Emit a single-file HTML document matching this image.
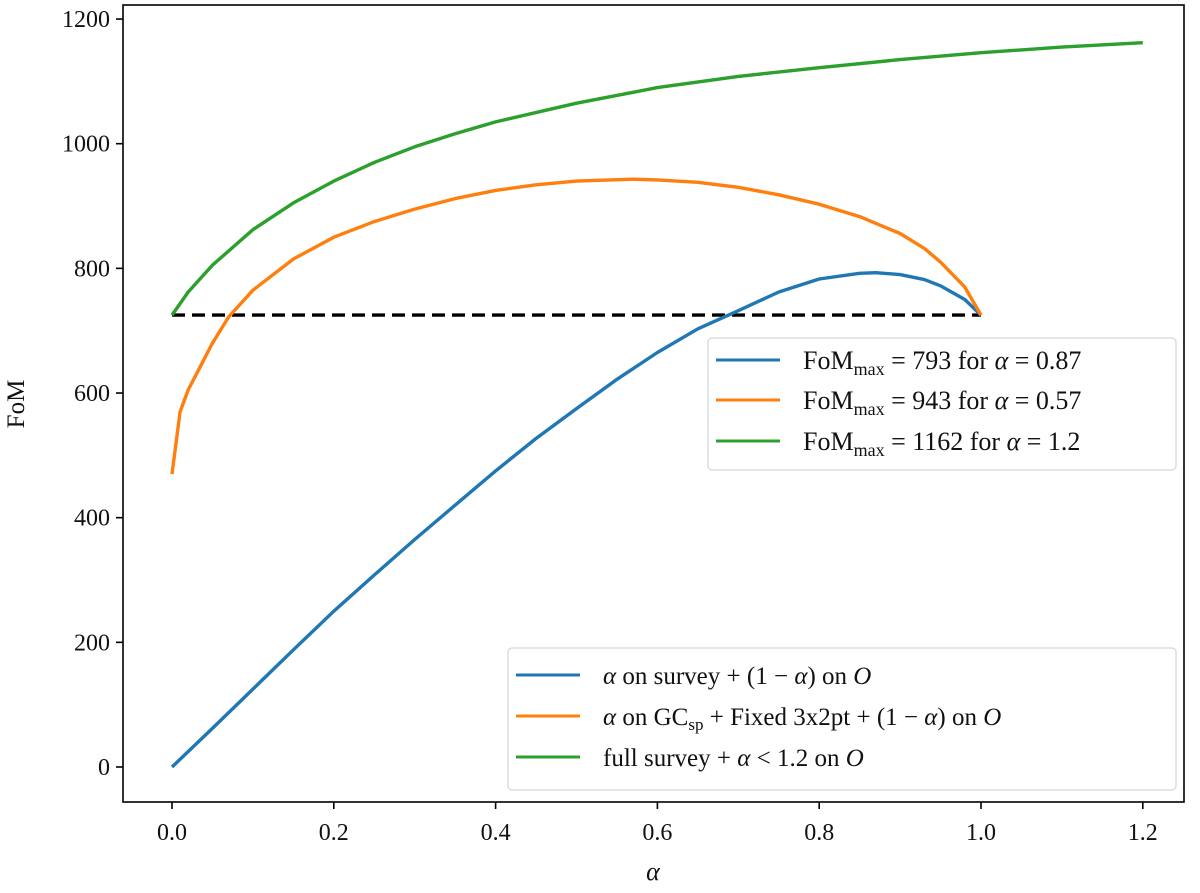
<!DOCTYPE html>
<html><head><meta charset="utf-8"><style>
body{margin:0;background:#fff}
svg text{font-family:"Liberation Serif","DejaVu Serif",serif;fill:#111}
</style></head><body>
<svg id="chart" width="1200" height="888">
<g id="axes"></g><g id="series"></g>
<g>
<rect x="708" y="338" width="468" height="132" rx="4" fill="#fff" stroke="#ccc"/>
<line x1="716" y1="360" x2="780" y2="360" stroke="#1f77b4" stroke-width="3"/>
<line x1="716" y1="400" x2="780" y2="400" stroke="#ff7f0e" stroke-width="3"/>
<line x1="716" y1="441" x2="780" y2="441" stroke="#2ca02c" stroke-width="3"/>
<text x="803" y="369" font-size="26">FoM<tspan font-size="18" dy="6">max</tspan><tspan dy="-6"> = 793 for </tspan><tspan font-style="italic">α</tspan> = 0.87</text>
<text x="803" y="409" font-size="26">FoM<tspan font-size="18" dy="6">max</tspan><tspan dy="-6"> = 943 for </tspan><tspan font-style="italic">α</tspan> = 0.57</text>
<text x="803" y="450" font-size="26">FoM<tspan font-size="18" dy="6">max</tspan><tspan dy="-6"> = 1162 for </tspan><tspan font-style="italic">α</tspan> = 1.2</text>
</g>
<g>
<rect x="508" y="648" width="668" height="142" rx="4" fill="#fff" stroke="#ccc"/>
<line x1="516" y1="675" x2="580" y2="675" stroke="#1f77b4" stroke-width="3"/>
<line x1="516" y1="716" x2="580" y2="716" stroke="#ff7f0e" stroke-width="3"/>
<line x1="516" y1="757" x2="580" y2="757" stroke="#2ca02c" stroke-width="3"/>
<text x="603" y="684" font-size="25"><tspan font-style="italic">α</tspan> on survey + (1 − <tspan font-style="italic">α</tspan>) on <tspan font-style="italic">O</tspan></text>
<text x="603" y="725" font-size="25"><tspan font-style="italic">α</tspan> on GC<tspan font-size="17" dy="5">sp</tspan><tspan dy="-5"> + Fixed 3x2pt + (1 − </tspan><tspan font-style="italic">α</tspan>) on <tspan font-style="italic">O</tspan></text>
<text x="603" y="766" font-size="25">full survey + <tspan font-style="italic">α</tspan> &lt; 1.2 on <tspan font-style="italic">O</tspan></text>
</g>
</svg>
<script>
const blueX=[0,0.05,0.1,0.15,0.2,0.25,0.3,0.35,0.4,0.45,0.5,0.55,0.6,0.65,0.7,0.75,0.8,0.85,0.87,0.9,0.93,0.95,0.98,1.0];
const blueY=[0,62,125,188,250,308,365,420,475,527,575,622,665,703,732,762,783,792,793,790,782,772,750,725];
const orangeX=[0,0.01,0.02,0.03,0.05,0.07,0.1,0.15,0.2,0.25,0.3,0.35,0.4,0.45,0.5,0.57,0.6,0.65,0.7,0.75,0.8,0.85,0.9,0.93,0.95,0.98,1.0];
const orangeY=[470,570,605,630,680,722,765,815,850,875,895,912,925,934,940,943,942,938,930,918,903,883,856,832,810,770,725];
const greenX=[0,0.02,0.05,0.1,0.15,0.2,0.25,0.3,0.35,0.4,0.5,0.6,0.7,0.8,0.9,1.0,1.1,1.2];
const greenY=[725,762,805,862,905,940,970,995,1016,1035,1065,1090,1108,1122,1135,1146,1155,1162];
const baseX=[0,1];const baseY=[725,725];
const xTicks=[0,0.2,0.4,0.6,0.8,1.0,1.2];
const yTicks=[0,200,400,600,800,1000,1200];
const sx=v=>172+v*809, sy=v=>767-v*0.6233;
const NS="http://www.w3.org/2000/svg";
const ax=document.getElementById('axes'), se=document.getElementById('series');
function mk(tag,attrs,parent,txt){const e=document.createElementNS(NS,tag);for(const k in attrs)e.setAttribute(k,attrs[k]);if(txt!==undefined)e.textContent=txt;parent.appendChild(e);return e;}
const frame=mk('rect',{x:123,y:5,width:1061,height:797,fill:'none',stroke:'#000','stroke-width':1.6},ax);


xTicks.forEach(t=>{mk('line',{x1:sx(t),x2:sx(t),y1:802,y2:809,stroke:'#000','stroke-width':1.6},ax);
const l=mk('text',{x:sx(t),y:840,'font-size':24,'text-anchor':'middle'},ax,t.toFixed(1));

});
yTicks.forEach(t=>{mk('line',{x1:116,x2:123,y1:sy(t),y2:sy(t),stroke:'#000','stroke-width':1.6},ax);
const l=mk('text',{x:110,y:sy(t)+8,'font-size':24,'text-anchor':'end'},ax,String(t));

});
const xt=mk('text',{x:653,y:880,'font-size':26,'text-anchor':'middle','font-style':'italic'},ax,'α');


const yt=mk('text',{x:0,y:0,'font-size':25,'text-anchor':'middle',transform:'translate(24,404) rotate(-90)'},ax,'FoM');


function line(xs,ys,color,name,dash){const d=xs.map((x,i)=>(i?'L':'M')+sx(x).toFixed(1)+','+sy(ys[i]).toFixed(1)).join('');
const p=mk('path',{d:d,fill:'none',stroke:color,'stroke-width':3.4,'stroke-linejoin':'round'},se);
if(dash)p.setAttribute('stroke-dasharray',dash);

}
line(baseX,baseY,'#000','baseline-dashed','13,7');
line(blueX,blueY,'#1f77b4','series-survey');
line(orangeX,orangeY,'#ff7f0e','series-gcsp');
line(greenX,greenY,'#2ca02c','series-full-survey');
</script>
</body></html>
